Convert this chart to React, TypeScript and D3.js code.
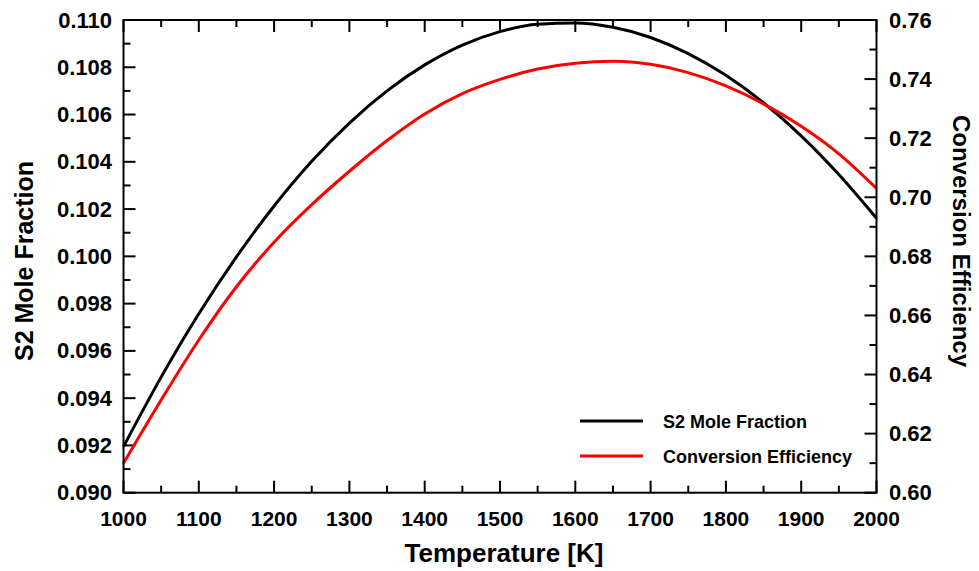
import React from "react";
import * as d3 from "d3";

const temperatures = [1000, 1050, 1100, 1150, 1200, 1250, 1300, 1350, 1400, 1450, 1500, 1550, 1600, 1650, 1700, 1750, 1800, 1850, 1900, 1950, 2000];
const s2MoleFraction = [0.09195, 0.09489, 0.09757, 0.09998, 0.10213, 0.10402, 0.10564, 0.10700, 0.10810, 0.10894, 0.10951, 0.10982, 0.10987, 0.10969, 0.10926, 0.10858, 0.10766, 0.10650, 0.10510, 0.10346, 0.10161];
const conversionEfficiency = [0.6100, 0.6314, 0.6517, 0.6697, 0.6848, 0.6975, 0.7088, 0.7192, 0.7282, 0.7351, 0.7399, 0.7434, 0.7454, 0.7460, 0.7450, 0.7422, 0.7377, 0.7316, 0.7240, 0.7147, 0.7030];

const xTicks = [1000, 1100, 1200, 1300, 1400, 1500, 1600, 1700, 1800, 1900, 2000];
const leftTicks = [0.090, 0.092, 0.094, 0.096, 0.098, 0.100, 0.102, 0.104, 0.106, 0.108, 0.110];
const rightTicks = [0.60, 0.62, 0.64, 0.66, 0.68, 0.70, 0.72, 0.74, 0.76];

const seriesNames = ["S2 Mole Fraction", "Conversion Efficiency"];
const seriesColors = ["#000000", "#ff0000"];

export default function App() {
  const W = 979, H = 571;
  const L = 123.5, R = 876.5, T = 20, B = 492.7;
  const x = d3.scaleLinear().domain([1000, 2000]).range([L, R]);
  const yL = d3.scaleLinear().domain([0.09, 0.11]).range([B, T]);
  const yR = d3.scaleLinear().domain([0.6, 0.76]).range([B, T]);
  const font = "'Liberation Sans', Arial, Helvetica, sans-serif";

  const lineL = d3.line<number>().x((_, i) => x(temperatures[i])).y((d) => yL(d)).curve(d3.curveMonotoneX);
  const lineR = d3.line<number>().x((_, i) => x(temperatures[i])).y((d) => yR(d)).curve(d3.curveMonotoneX);

  const xMinor = d3.range(1050, 2000, 100);
  const lMinor = d3.range(0, 10).map((i) => 0.091 + i * 0.002);
  const rMinor = d3.range(0, 8).map((i) => 0.61 + i * 0.02);
  const MAJ = 12, MIN = 7;
  const tick = { stroke: "#000", strokeWidth: 2 };

  return (
    <svg width={W} height={H} style={{ position: "absolute", left: 0, top: 0 }}>
      <rect width={W} height={H} fill="#fff" />
      {xTicks.map((t) => (
        <g key={"xt" + t}>
          <line x1={x(t)} x2={x(t)} y1={B} y2={B - MAJ} {...tick} />
          <line x1={x(t)} x2={x(t)} y1={T} y2={T + MAJ} {...tick} />
        </g>
      ))}
      {xMinor.map((t) => (
        <g key={"xm" + t}>
          <line x1={x(t)} x2={x(t)} y1={B} y2={B - MIN} {...tick} />
          <line x1={x(t)} x2={x(t)} y1={T} y2={T + MIN} {...tick} />
        </g>
      ))}
      {leftTicks.map((t) => (
        <line key={"lt" + t} x1={L} x2={L + MAJ} y1={yL(t)} y2={yL(t)} {...tick} />
      ))}
      {lMinor.map((t) => (
        <line key={"lm" + t} x1={L} x2={L + MIN} y1={yL(t)} y2={yL(t)} {...tick} />
      ))}
      {rightTicks.map((t) => (
        <line key={"rt" + t} x1={R} x2={R - MAJ} y1={yR(t)} y2={yR(t)} {...tick} />
      ))}
      {rMinor.map((t) => (
        <line key={"rm" + t} x1={R} x2={R - MIN} y1={yR(t)} y2={yR(t)} {...tick} />
      ))}
      <path d={lineL(s2MoleFraction) || ""} fill="none" stroke={seriesColors[0]} strokeWidth={3} strokeLinejoin="round" />
      <path d={lineR(conversionEfficiency) || ""} fill="none" stroke={seriesColors[1]} strokeWidth={3} strokeLinejoin="round" />
      <rect x={L} y={T} width={R - L} height={B - T} fill="none" stroke="#000" strokeWidth={2} />
      {xTicks.map((t) => (
        <text key={"xl" + t} x={x(t)} y={526} textAnchor="middle" fontFamily={font} fontWeight="bold" fontSize={21}>
          {t}
        </text>
      ))}
      {leftTicks.map((t) => (
        <text key={"ll" + t} x={112} y={yL(t) + 7.5} textAnchor="end" fontFamily={font} fontWeight="bold" fontSize={22}>
          {d3.format(".3f")(t)}
        </text>
      ))}
      {rightTicks.map((t) => (
        <text key={"rl" + t} x={889} y={yR(t) + 7.5} textAnchor="start" fontFamily={font} fontWeight="bold" fontSize={22}>
          {d3.format(".2f")(t)}
        </text>
      ))}
      <text x={504} y={562} textAnchor="middle" fontFamily={font} fontWeight="bold" fontSize={26}>
        Temperature [K]
      </text>
      <text transform={`translate(33,261) rotate(-90)`} textAnchor="middle" fontFamily={font} fontWeight="bold" fontSize={25}>
        S2 Mole Fraction
      </text>
      <text transform={`translate(953,241) rotate(90)`} textAnchor="middle" fontFamily={font} fontWeight="bold" fontSize={24}>
        Conversion Efficiency
      </text>
      {seriesNames.map((name, i) => (
        <g key={name}>
          <line x1={580} x2={643} y1={421 + i * 35} y2={421 + i * 35} stroke={seriesColors[i]} strokeWidth={3} />
          <text x={663} y={421 + i * 35 + 6.5} fontFamily={font} fontWeight="bold" fontSize={18}>
            {name}
          </text>
        </g>
      ))}
    </svg>
  );
}
